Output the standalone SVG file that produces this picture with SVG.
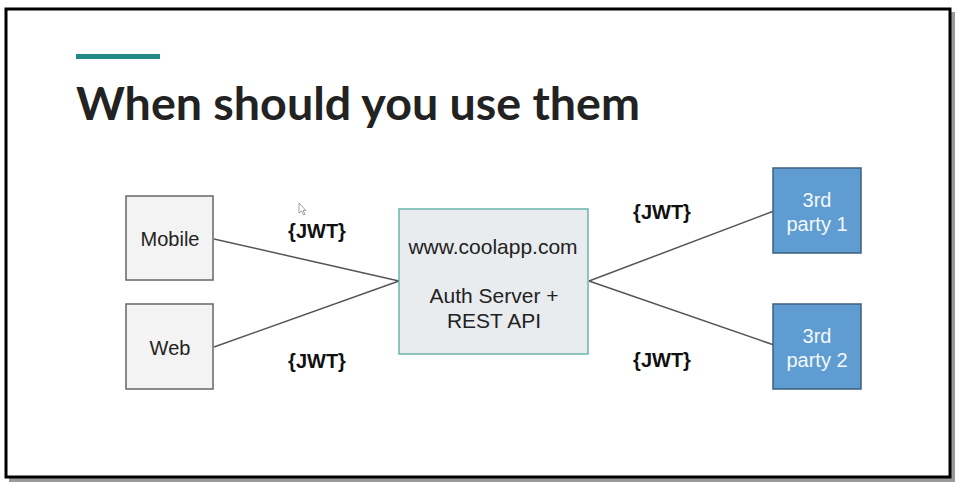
<svg xmlns="http://www.w3.org/2000/svg" width="963" height="488" viewBox="0 0 963 488">
<style>
.t{font-family:"Liberation Sans",Arial,sans-serif;text-anchor:middle;fill:#222}
.jwt{font-family:"Liberation Sans",Arial,sans-serif;text-anchor:middle;font-weight:bold;font-size:20px;fill:#111}
.client{fill:#f3f3f3;stroke:#666;stroke-width:1.5}
.third{fill:#5e9cd1;stroke:#3f5f7e;stroke-width:1.5}
.conn{stroke:#555;stroke-width:1.5;fill:none}
.w{fill:#f4f8fc}
</style>
<rect width="963" height="488" fill="#fff"/>
<rect x="9" y="12" width="946" height="470" fill="#9a9a9a"/>
<rect x="6" y="9" width="944" height="468" fill="#fff" stroke="#000" stroke-width="3"/>
<rect x="76" y="54" width="84" height="5" fill="#1f8a86"/>
<text x="76" y="120" font-family="Lato,'Liberation Sans',sans-serif" font-weight="bold" font-size="45" fill="#222" textLength="564" lengthAdjust="spacingAndGlyphs">When should you use them</text>
<g id="connectors">
<line class="conn" x1="214" y1="239" x2="399" y2="281"/>
<line class="conn" x1="214" y1="347" x2="399" y2="281"/>
<line class="conn" x1="589" y1="281" x2="774" y2="211"/>
<line class="conn" x1="589" y1="281" x2="774" y2="345"/>
<text class="jwt" x="317" y="238">{JWT}</text>
<text class="jwt" x="317" y="368">{JWT}</text>
<text class="jwt" x="662" y="219">{JWT}</text>
<text class="jwt" x="662" y="367">{JWT}</text>
</g>
<g id="mobile">
<rect class="client" x="126" y="196" width="87" height="84"/>
<text class="t" x="170" y="246" font-size="20">Mobile</text>
</g>
<g id="web">
<rect class="client" x="126" y="304" width="87" height="85"/>
<text class="t" x="170" y="355" font-size="20">Web</text>
</g>
<g id="server">
<rect x="399" y="209" width="189" height="145" fill="#e9ecef" stroke="#6bb5aa" stroke-width="1.5"/>
<text class="t" x="493" y="254" font-size="21">www.coolapp.com</text>
<text class="t" x="494" y="303" font-size="21">Auth Server +</text>
<text class="t" x="494" y="328" font-size="21">REST API</text>
</g>
<g id="third1">
<rect class="third" x="773" y="168" width="88" height="85"/>
<text class="t w" x="817" y="207" font-size="20">3rd</text>
<text class="t w" x="817" y="231" font-size="20">party 1</text>
</g>
<g id="third2">
<rect class="third" x="773" y="304" width="88" height="85"/>
<text class="t w" x="817" y="343" font-size="20">3rd</text>
<text class="t w" x="817" y="367" font-size="20">party 2</text>
</g>
<path d="M299 203 L299 213 L301.5 211 L303.5 215 L305 214.3 L303 210.5 L306 210.5 Z" fill="#fff" stroke="#888" stroke-width="0.8"/>
</svg>
